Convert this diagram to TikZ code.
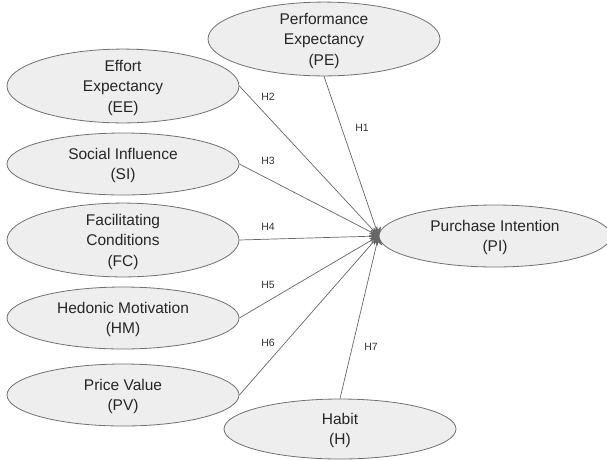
\documentclass[tikz,border=0pt]{standalone}
\usepackage{fontspec}
\setmainfont{Liberation Sans}
\usepackage{tikz}
\usetikzlibrary{shapes.geometric, arrows}
\usetikzlibrary{arrows.meta}
\usepackage{xcolor}
\definecolor{bubble}{HTML}{EEEEEE}
\definecolor{rim}{HTML}{707070}
\definecolor{wire}{HTML}{666666}

\tikzset{
	construct/.style={ellipse, draw=rim, fill=bubble, line width=0.8pt,
		minimum width=232pt, minimum height=62pt, inner sep=0pt,
		align=center, font=\fontsize{15.5}{20.5}\selectfont, text=black!85,
		text depth=-7pt},
	path/.style={draw=wire, line width=0.7pt, -{Stealth[length=9pt,width=12pt,round]}},
	hyp/.style={font=\fontsize{10.5}{12}\selectfont, text=black!80}
}

\begin{document}
\begin{tikzpicture}[x=1pt, y=-1pt]
			\useasboundingbox (0,0) rectangle (607,459);
			
			% constructs
			\node[construct] (pe) at (324,39) {Performance\\Expectancy\\(PE)};
			\node[construct] (ee) at (123,86) {Effort\\Expectancy\\(EE)};
			\node[construct] (si) at (123,164) {Social Influence\\(SI)};
			\node[construct] (fc) at (123,240) {Facilitating\\Conditions\\(FC)};
			\node[construct] (hm) at (123,318) {Hedonic Motivation\\(HM)};
			\node[construct] (pv) at (123,395) {Price Value\\(PV)};
			\node[construct, minimum height=60pt] (h) at (340,429) {Habit\\(H)};
			\node[construct] (pi) at (495,236) {Purchase Intention\\(PI)};
			
			% hypotheses
			\foreach \src/\hname/\hx/\hy in {pe.south/H1/362/128, ee.east/H2/268/97,
				si.east/H3/268/161, fc.east/H4/268/227, hm.east/H5/268/285,
				pv.east/H6/268/343, h.north/H7/371/347}
			{
				\draw[path] (\src) -- (pi.west);
				\node[hyp] at (\hx,\hy) {\hname};
			}
		\end{tikzpicture}
\end{document}
